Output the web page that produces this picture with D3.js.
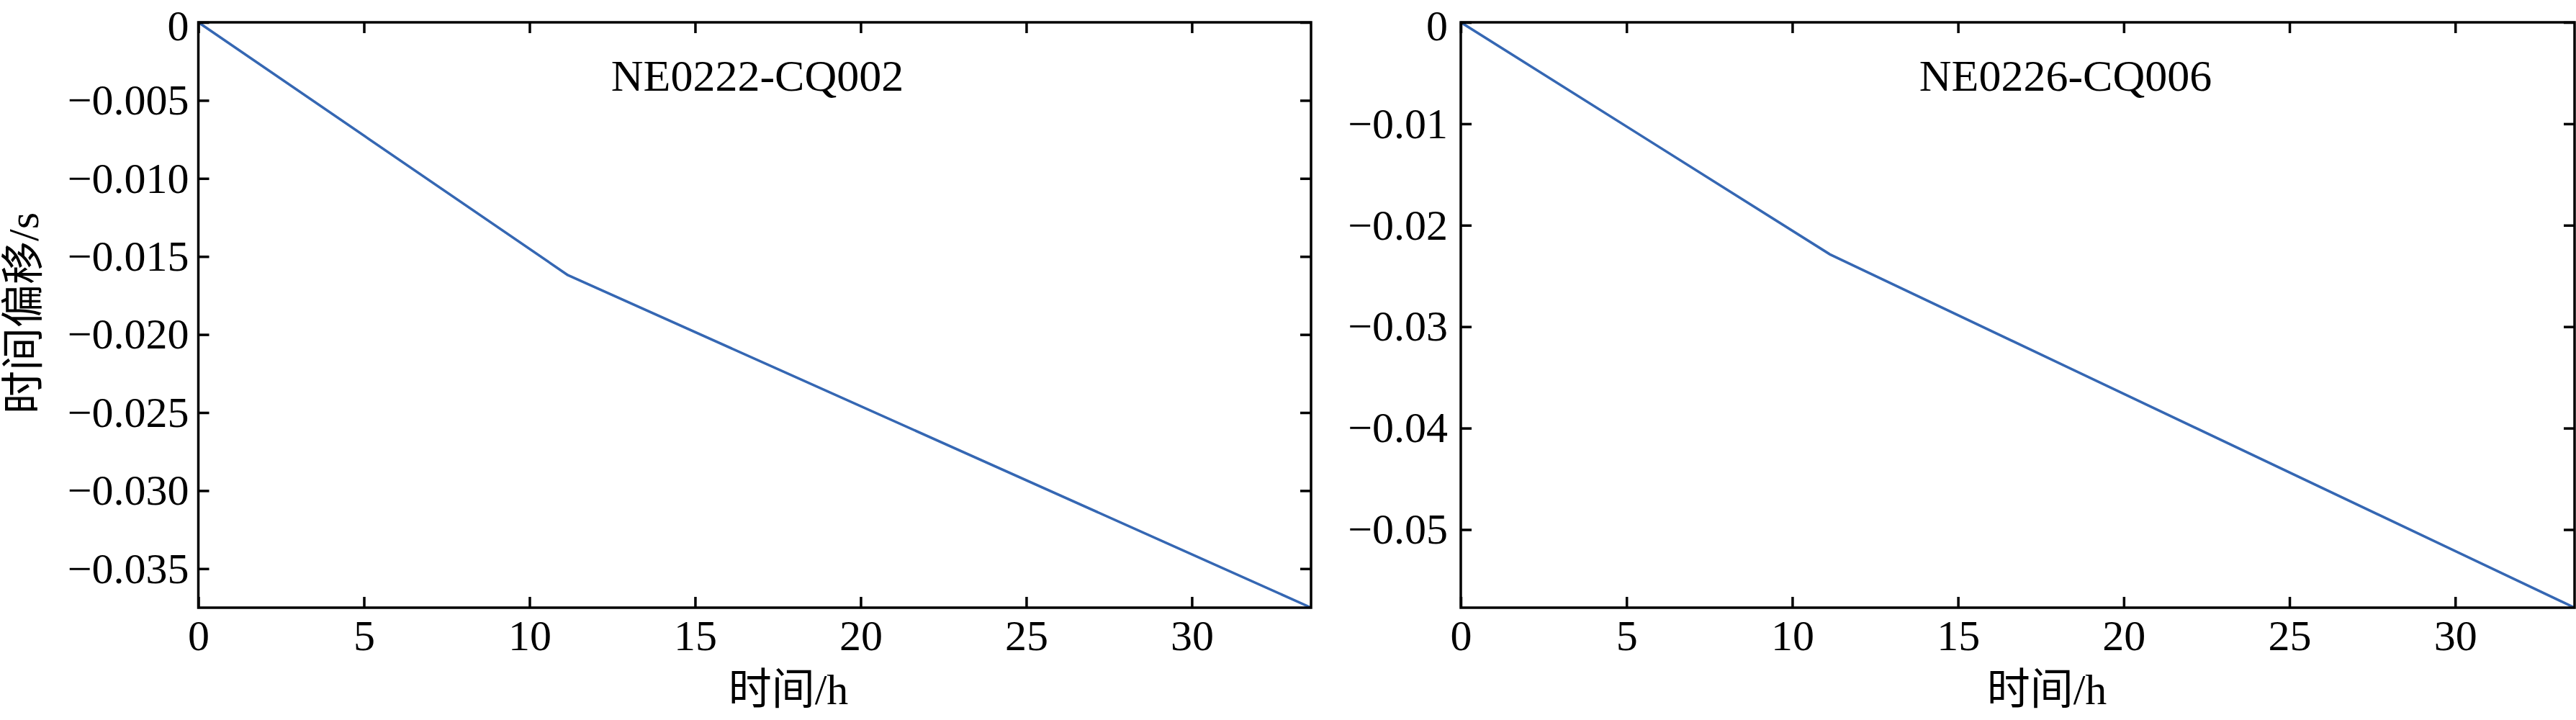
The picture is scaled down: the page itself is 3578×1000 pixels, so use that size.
<!DOCTYPE html>
<html>
<head>
<meta charset="utf-8">
<script src="https://cdn.jsdelivr.net/npm/d3@7"></script>
<style>
  html, body { margin: 0; padding: 0; background: #fff; }
  svg { display: block; }
  text { fill: #000; }
</style>
</head>
<body>
<svg id="chart" width="3578" height="1000"></svg>
<script>
// ---- data ----
const hoursA = [0, 11.16, 33.6];
const offsetA = [0, -0.0162, -0.0375];
const hoursB = [0, 11.15, 33.6];
const offsetB = [0, -0.0229, -0.0577];

const titles = ["NE0222-CQ002", "NE0226-CQ006"];
const xTicks = [0, 5, 10, 15, 20, 25, 30];
const yTicksA = [0, -0.005, -0.010, -0.015, -0.020, -0.025, -0.030, -0.035];
const yTicksB = [0, -0.01, -0.02, -0.03, -0.04, -0.05];
const xDomain = [0, 33.6];
const yDomainA = [-0.0375, 0];
const yDomainB = [-0.0577, 0];
const xLabel = "时间/h";
const yLabel = "时间偏移/s";

// ---- layout ----
const svg = d3.select("#chart");
const plotTop = 31, plotBottom = 844;
const serif = "'Liberation Serif', 'Times New Roman', 'Noto Sans CJK SC', serif";
const lineColor = "#3567b3";
const axisW = 3.5, tickLen = 15;

const panels = [
  { x0: 275.5, x1: 1821, hours: hoursA, vals: offsetA, yTicks: yTicksA, yDomain: yDomainA,
    fmt: v => v === 0 ? "0" : d3.format(".3f")(v), ypad: 13,
    title: titles[0], titleX: 1052, xLabelX: 1095 },
  { x0: 2029, x1: 3576, hours: hoursB, vals: offsetB, yTicks: yTicksB, yDomain: yDomainB,
    fmt: v => v === 0 ? "0" : d3.format(".2f")(v), ypad: 18,
    title: titles[1], titleX: 2869, xLabelX: 2843 }
];

panels.forEach(p => {
  const x = d3.scaleLinear().domain(xDomain).range([p.x0, p.x1]);
  const y = d3.scaleLinear().domain(p.yDomain).range([plotBottom, plotTop]);
  const g = svg.append("g");

  const pts = p.hours.map((h, i) => [h, p.vals[i]]);
  g.append("path")
    .datum(pts)
    .attr("fill", "none")
    .attr("stroke", lineColor)
    .attr("stroke-width", 3.5)
    .attr("stroke-linejoin", "round")
    .attr("d", d3.line().x(d => x(d[0])).y(d => y(d[1])));

  const styleAxis = sel => {
    sel.select(".domain").remove();
    sel.selectAll(".tick line").attr("stroke", "#000").attr("stroke-width", axisW);
    sel.selectAll(".tick text").attr("font-family", serif).attr("font-size", 60).attr("fill", "#000");
  };

  g.append("g").attr("transform", `translate(0,${plotBottom})`)
    .call(d3.axisBottom(x).tickValues(xTicks).tickSizeInner(-tickLen).tickSizeOuter(0).tickPadding(16).tickFormat(d3.format("d")))
    .call(styleAxis);
  g.append("g").attr("transform", `translate(0,${plotTop})`)
    .call(d3.axisTop(x).tickValues(xTicks).tickSizeInner(-tickLen).tickSizeOuter(0).tickFormat(""))
    .call(styleAxis);
  const leftAx = g.append("g").attr("transform", `translate(${p.x0},0)`)
    .call(d3.axisLeft(y).tickValues(p.yTicks).tickSizeInner(-tickLen).tickSizeOuter(0).tickPadding(p.ypad).tickFormat(p.fmt))
    .call(styleAxis);
  // keep the top "0" label inside the canvas
  leftAx.selectAll(".tick text").filter(d => d === 0).attr("dy", "0.4em");
  g.append("g").attr("transform", `translate(${p.x1},0)`)
    .call(d3.axisRight(y).tickValues(p.yTicks).tickSizeInner(-tickLen).tickSizeOuter(0).tickFormat(""))
    .call(styleAxis);

  g.append("rect")
    .attr("x", p.x0).attr("y", plotTop)
    .attr("width", p.x1 - p.x0).attr("height", plotBottom - plotTop)
    .attr("fill", "none").attr("stroke", "#000").attr("stroke-width", axisW);

  g.append("text")
    .attr("x", p.titleX).attr("y", 126)
    .attr("text-anchor", "middle")
    .attr("font-family", serif).attr("font-size", 62)
    .text(p.title);

  g.append("text")
    .attr("x", p.xLabelX).attr("y", 978)
    .attr("text-anchor", "middle")
    .attr("font-family", serif).attr("font-size", 60)
    .text(xLabel);
});

svg.append("text")
  .attr("transform", "translate(32,435) rotate(-90)")
  .attr("text-anchor", "middle")
  .attr("dy", "0.35em")
  .attr("font-family", serif).attr("font-size", 60)
  .text(yLabel);
</script>
</body>
</html>
